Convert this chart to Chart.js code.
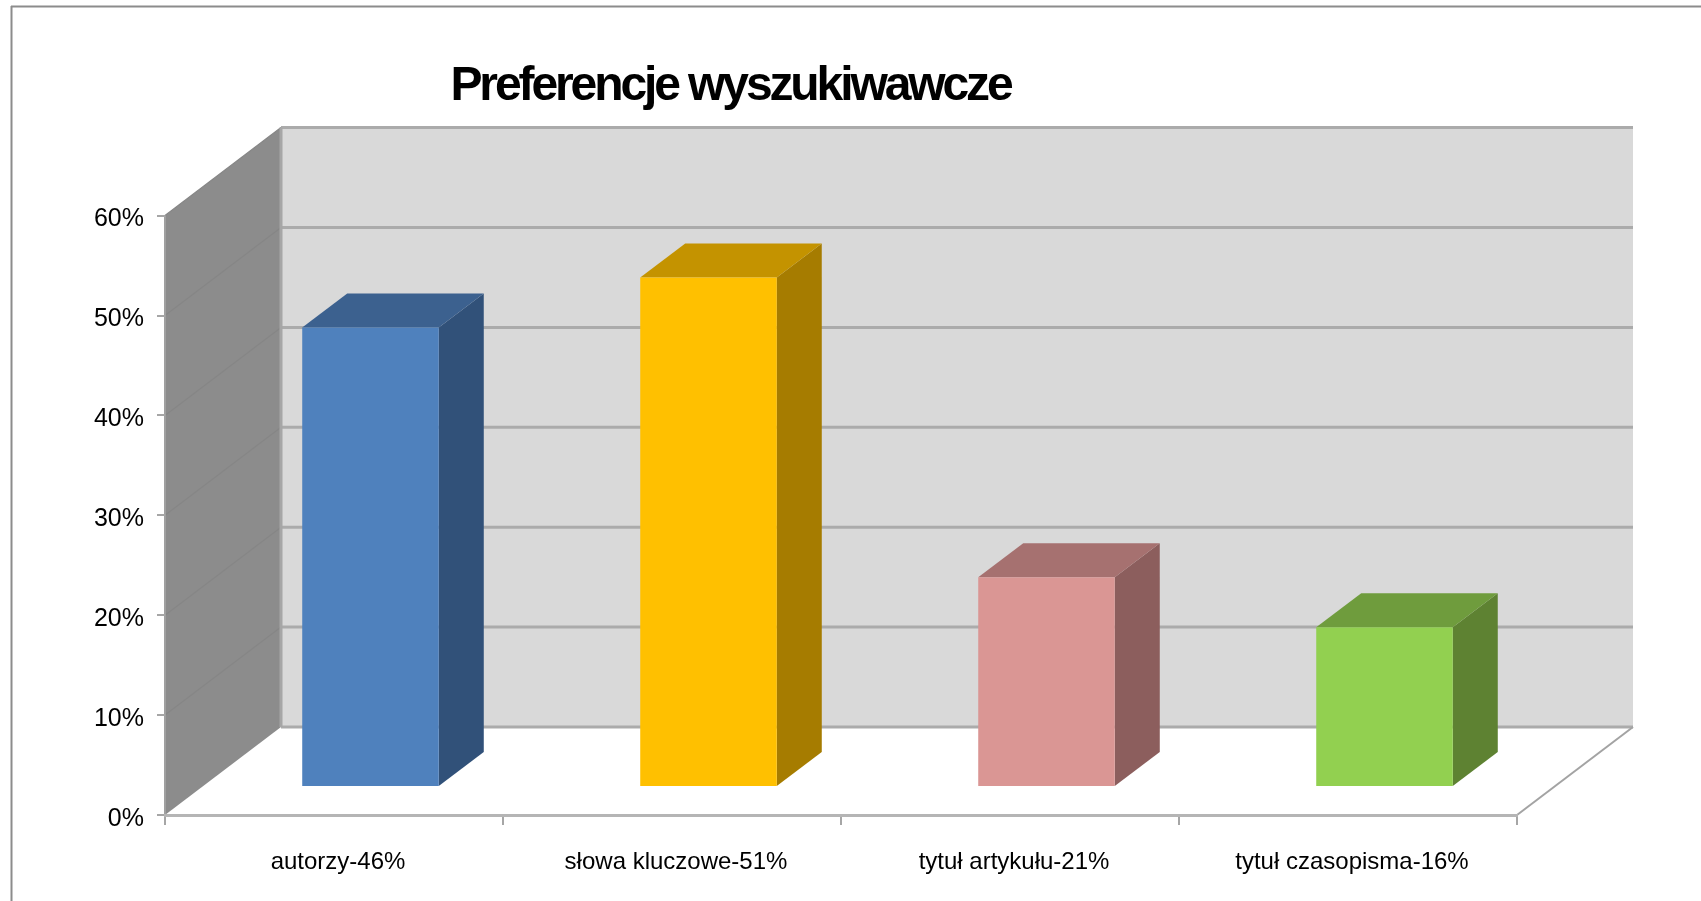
<!DOCTYPE html>
<html>
  <head>
    <meta charset="utf-8" />
    <title>Preferencje wyszukiwawcze</title>
    <script src="https://cdn.jsdelivr.net/npm/chart.js"></script>
    <style>
      html, body { margin: 0; padding: 0; background: #fff; overflow: hidden; }
      canvas { display: block; }
    </style>
  </head>
  <body>
    <canvas id="chart" width="1701" height="901"></canvas>

    <script>
      // data
      var categories = ["autorzy-46%", "słowa kluczowe-51%", "tytuł artykułu-21%", "tytuł czasopisma-16%"];
      var values = [46, 51, 21, 16];
      var frontColors = ["#4f81bd", "#ffc000", "#da9694", "#92d050"];
      var topColors = ["#3c618f", "#c49300", "#a67170", "#6f9c3d"];
      var sideColors = ["#315179", "#a67c00", "#8c5e5d", "#5e8232"];

      // wall depth and bar offset, in pixels
      var depthX = 116, depthY = 88;
      var barShiftX = 36.5, barShiftY = 28;
      var barDepthX = 45, barDepthY = 34;

      function poly(ctx, pts, fill) {
        ctx.beginPath();
        ctx.moveTo(pts[0][0], pts[0][1]);
        for (var i = 1; i < pts.length; i++) ctx.lineTo(pts[i][0], pts[i][1]);
        ctx.closePath();
        ctx.fillStyle = fill;
        ctx.fill();
      }

      function line(ctx, x1, y1, x2, y2, color, width) {
        ctx.beginPath();
        ctx.moveTo(x1, y1);
        ctx.lineTo(x2, y2);
        ctx.strokeStyle = color;
        ctx.lineWidth = width;
        ctx.stroke();
      }

      var depthPlugin = {
        id: "depth",
        beforeDraw: function (chart) {
          var ctx = chart.ctx, area = chart.chartArea, y = chart.scales.y;
          var l = area.left, r = area.right, t = area.top, b = area.bottom;
          ctx.save();
          // outer frame, only top and left are in the picture
          line(ctx, 11, 6.5, chart.width, 6.5, "#8c8c8c", 2);
          line(ctx, 11.5, 6, 11.5, chart.height, "#8c8c8c", 2);
          // back wall
          poly(ctx, [[l + depthX, t - depthY], [r + depthX, t - depthY], [r + depthX, b - depthY], [l + depthX, b - depthY]], "#d9d9d9");
          // side wall
          poly(ctx, [[l, t], [l + depthX, t - depthY], [l + depthX, b - depthY], [l, b]], "#8c8c8c");
          y.ticks.forEach(function (tick) {
            var py = y.getPixelForValue(tick.value);
            if (tick.value > 0) line(ctx, l, py, l + depthX, py - depthY, "#868686", 1.2);
            line(ctx, l + depthX, py - depthY, r + depthX, py - depthY, "#ababab", 3);
          });
          line(ctx, l + depthX, t - depthY, l + depthX, b - depthY, "#a6a6a6", 3);
          line(ctx, l, t, l, b, "#a0a0a0", 2);
          // floor right edge
          line(ctx, r, b, r + depthX, b - depthY, "#a3a3a3", 2);
          ctx.restore();
        },
        beforeDatasetsDraw: function (chart) {
          var ctx = chart.ctx;
          ctx.save();
          ctx.translate(barShiftX, -barShiftY);
          chart.getDatasetMeta(0).data.forEach(function (bar, i) {
            var p = bar.getProps(["x", "y", "base", "width"], true);
            var left = p.x - p.width / 2, right = p.x + p.width / 2;
            poly(ctx, [[right, p.y], [right + barDepthX, p.y - barDepthY], [right + barDepthX, p.base - barDepthY], [right, p.base]], sideColors[i]);
            poly(ctx, [[left, p.y], [left + barDepthX, p.y - barDepthY], [right + barDepthX, p.y - barDepthY], [right, p.y]], topColors[i]);
          });
        },
        afterDatasetsDraw: function (chart) {
          chart.ctx.restore();
        },
        // title sits left of centre and is set tight in the original
        afterInit: function (chart) {
          var block = chart.titleBlock, draw = block.draw;
          block.draw = function () {
            var ctx = chart.ctx;
            ctx.save();
            ctx.letterSpacing = "-3.1px";
            ctx.translate(-28, 0);
            draw.call(block);
            ctx.restore();
          };
        },
      };

      new Chart(document.getElementById("chart"), {
        type: "bar",
        data: {
          labels: categories,
          datasets: [
            {
              data: values,
              backgroundColor: frontColors,
              borderWidth: 0,
              barPercentage: 0.404,
              categoryPercentage: 1,
              clip: false,
            },
          ],
        },
        plugins: [depthPlugin],
        options: {
          responsive: false,
          animation: false,
          layout: { padding: { left: 0, right: 184, top: 0, bottom: 0 } },
          plugins: {
            legend: { display: false },
            tooltip: { enabled: false },
            title: {
              display: true,
              text: "Preferencje wyszukiwawcze",
              color: "#000",
              font: { family: "'Liberation Sans'", size: 48, weight: "bold" },
              padding: { top: 58, bottom: 100 },
            },
          },
          scales: {
            x: {
              afterFit: function (s) { s.height = 86; },
              grid: {
                offset: true,
                drawOnChartArea: false,
                color: "#a6a6a6",
                lineWidth: 2,
                tickLength: 10,
              },
              border: { color: "#b5b5b5", width: 3 },
              ticks: {
                color: "#000",
                padding: 23,
                labelOffset: 4,
                maxRotation: 0,
                font: { family: "'Liberation Sans'", size: 24 },
              },
            },
            y: {
              min: 0,
              max: 60,
              afterFit: function (s) { s.width = 165; },
              grid: {
                drawOnChartArea: false,
                color: "#a6a6a6",
                lineWidth: 2,
                tickLength: 8,
              },
              border: { display: false },
              ticks: {
                stepSize: 10,
                color: "#000",
                padding: 13,
                labelOffset: 4,
                font: { family: "'Liberation Sans'", size: 25 },
                callback: function (v) { return v + "%"; },
              },
            },
          },
        },
      });
    </script>
  </body>
</html>
